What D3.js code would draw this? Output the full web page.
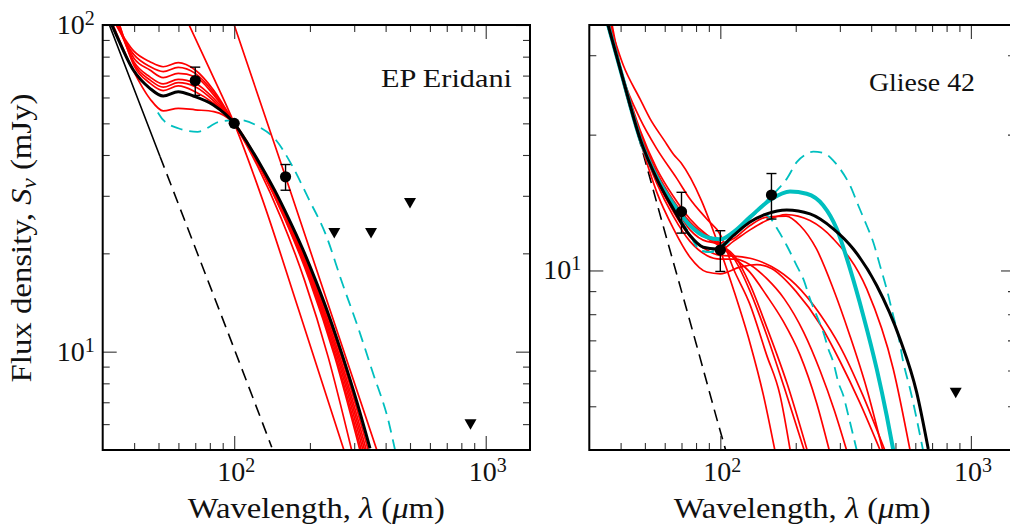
<!DOCTYPE html>
<html>
<head>
<meta charset="utf-8">
<script src="https://cdn.jsdelivr.net/npm/d3@7"></script>
<style>
  body { margin: 0; background: #fff; }
  svg { display: block; }
  text { font-family: "Liberation Serif", "Times New Roman", "DejaVu Serif", "Noto Serif", serif; fill: #111; }
</style>
</head>
<body>
<svg id="chart" width="1010" height="527" font-family="Liberation Serif, Times New Roman, DejaVu Serif, serif"></svg>
<script>
// ---- shared axis values ----
const xMajor = [100, 1000];
const xMinor = [40, 50, 60, 70, 80, 90, 200, 300, 400, 500, 600, 700, 800, 900];

// ---- EP Eridani ----
const epYMajor = [10, 100];
const epYMinor = [6, 7, 8, 9, 20, 30, 40, 50, 60, 70, 80, 90];
const epDetWave = [70, 100, 160];
const epDetFlux = [67.6, 50, 34.3];
const epDetErr = [6.7, 0, 3.1];
const epLimWave = [250, 350, 500, 870];
const epLimFlux = [23.1, 23.1, 28.5, 6.0];

const epPhotSolid = [[30, 113], [40, 63.6], [50.7, 39.6]];
const epPhotDash = [[50.7, 39.6], [70, 20.8], [100, 10.2], [141, 5.1]];
const epCyanDash = [[49.7, 54], [52.2, 51.2], [59.9, 48.3], [71.5, 47.1], [87.8, 50.6], [105.5, 51.2],
  [125.5, 48.8], [145.3, 44.8], [169.3, 37.3], [197.1, 29.5], [231.4, 22.8], [267.6, 16.4],
  [311.4, 11.8], [354.8, 8.68], [412.6, 6.04], [436, 5.0]];
const epBest = [[30, 114], [32.6, 100], [39.7, 72.8], [46.2, 64.0], [52.2, 60.6], [59.9, 62.5], [68.8, 60.6],
  [82.6, 56.9], [100, 50], [113.3, 43.3], [128.3, 36.9], [145.3, 31.05], [164.5, 25.6], [186.3, 20.8],
  [210.9, 16.5], [238.8, 12.8], [270.4, 9.64], [306.2, 7.09], [346.7, 5.06]];
const epRed1 = [[34, 100], [40, 83], [46.2, 77.2], [52.2, 74.5], [59.9, 76.7], [70, 72.8], [83, 63], [100, 50],
  [124, 36.9], [153.8, 25.6], [190.6, 16.5], [236.3, 9.64], [293, 5]];
const epRed2 = [[34, 100], [40, 81], [46.2, 74.6], [52.2, 72], [59.9, 74.2], [70, 71.1], [83, 62], [100, 50],
  [125.9, 36.9], [158.5, 25.6], [199.5, 16.5], [251.1, 9.64], [316, 5]];
const epRed3 = [[34.5, 100], [40, 79], [46.2, 72.8], [52.2, 69], [59.9, 71.1], [70, 69.4], [83, 61], [100, 50],
  [126.2, 36.9], [159.2, 25.6], [201, 16.5], [253.6, 9.64], [320, 5]];
const epRed4 = [[34.5, 100], [40, 77], [46.2, 69.4], [52.2, 66], [59.9, 68.2], [70, 66.3], [83, 59.5], [100, 50],
  [126.6, 36.9], [160.2, 25.6], [202.8, 16.5], [256.8, 9.64], [325, 5]];
const epRed5 = [[35, 100], [40, 76], [46.2, 67.9], [52.2, 64.5], [59.9, 66.6], [70, 64.7], [83, 58.5], [100, 50],
  [127, 36.9], [161.2, 25.6], [204.7, 16.5], [259.9, 9.64], [330, 5]];
const epRed6 = [[35, 100], [40, 75], [46.2, 66.4], [52.2, 63], [59.9, 65.1], [70, 62.5], [83, 57.5], [100, 50],
  [127.4, 36.9], [162.2, 25.6], [206.5, 16.5], [263, 9.64], [335, 5]];
const epRed7 = [[33, 100], [39.7, 72.5], [46.2, 59.5], [52.2, 54.6], [59.9, 55.6], [70, 55], [83, 54.3], [100, 50],
  [127.8, 36.9], [163.4, 25.6], [208.7, 16.5], [266.8, 9.64], [341, 5]];
const epRedA = [[65, 103], [80, 73], [100, 50], [130, 29], [180, 13.5], [273, 5]];
const epRedB = [[98, 104.7], [160, 34.3], [369, 5]];

// ---- Gliese 42 ----
const glYMajor = [10];
const glYMinor = [5, 6, 7, 8, 9, 20, 30];
const glDetWave = [70, 100, 160];
const glDetFlux = [13.5, 11.1, 14.7];
const glDetErr = [1.4, 1.15, 1.7];
const glLimWave = [870];
const glLimFlux = [5.36];

const glPhot = [[35.4, 35], [40, 27.5], [50, 17.6], [60, 12.2], [70, 9.0], [80, 6.9], [100, 4.4], [105, 4.0]];
const glBest = [[35.7, 34.9], [41, 26.4], [47.8, 19.6], [55.8, 15.96], [64.9, 13.7], [75.7, 11.95], [85.5, 11.26],
  [96.7, 11.16], [112.7, 11.95], [131.4, 12.8], [153.2, 13.35], [184.1, 13.62], [228, 13.35], [282.5, 12.37],
  [339.5, 11.16], [420.9, 9.26], [521.3, 7.05], [607.7, 5.37], [676, 4.02]];
const glCyanThick = [[35.7, 34.9], [41, 26.4], [47.8, 19.6], [55.8, 16.1], [64.9, 14.05], [75.7, 12.58],
  [88.3, 11.85], [99.7, 11.72], [112.7, 12.16], [131.4, 13.13], [160.4, 14.41], [189.7, 14.96], [221.2, 14.79],
  [257.6, 13.93], [291.4, 12.37], [329.4, 10.08], [372.1, 7.94], [420.9, 6.05], [461.3, 4.77], [490, 4.0]];
const glCyanDashA = [[35.7, 34.9], [41, 26.4], [47.8, 19.6], [55.8, 16.0], [64.9, 13.8], [75.7, 12.0], [83, 11.07],
  [91, 10.98], [105, 11.4], [123.5, 12.58], [135.4, 13.24], [153.2, 14.29], [173, 15.3], [184.1, 15.96],
  [201.8, 17.38], [221.2, 18.13], [235, 18.34], [257.6, 18.23], [282.5, 17.52], [300.4, 16.8], [329.4, 15.43],
  [355.4, 13.93], [383.9, 12.58], [407.9, 11.55], [433.8, 10.25], [461.3, 9.1], [490, 7.94], [513.2, 7.17],
  [537.4, 6.26], [571.5, 5.47], [644, 4.0]];
const glCyanDashB = [[35.7, 34.9], [41, 26.4], [47.8, 19.6], [55.8, 16.0], [64.9, 13.8], [75.7, 12.0], [83, 11.1],
  [91, 11.0], [100, 11.3], [120, 12.5], [140, 13.4], [155, 13.2], [170.3, 12.26], [184.1, 11.36], [201.8, 10.25],
  [214.4, 9.58], [228, 8.65], [242.5, 7.94], [257.6, 7.3], [269.8, 6.7], [282.5, 6.26], [295.8, 5.65],
  [309.7, 5.28], [324.3, 4.77], [350.2, 4.0]];
const glRed1 = [[36.3, 35], [41, 28.5], [47.8, 24], [52.4, 21.7], [59.8, 19.4], [65, 18.1], [69.8, 17.3], [84, 14.3],
  [95, 12.0], [112.7, 9.1], [131.4, 6.9], [148.5, 5.3], [165, 4.0]];
const glRed2 = [[36, 35], [41, 26.6], [47.8, 21.7], [55.8, 18.6], [67, 16.0], [75.7, 14.4], [88.3, 13.0], [100, 12.0],
  [112.7, 10.1], [131.4, 8.4], [153, 6.5], [173, 5.3], [190, 4.0]];
const glRed3 = [[36, 35], [41, 26.8], [47.8, 20.5], [55.8, 16.8], [64.9, 14.6], [75.7, 13.0], [88.3, 12.0], [100, 11.5],
  [115, 10.5], [131.4, 9.0], [153, 7.2], [180, 5.5], [216, 4.0]];
const glRed4 = [[36, 35], [41, 26.5], [47.8, 20.2], [55.8, 16.5], [64.9, 14.3], [75.7, 12.8], [88.3, 11.9], [100, 11.4],
  [115, 10.7], [131.4, 9.3], [153, 7.5], [185, 5.6], [222, 4.0]];
const glRed5 = [[36, 35], [41, 26.4], [47.8, 20], [55.8, 16.3], [64.9, 14.1], [75.7, 12.6], [88.3, 11.8], [100, 11.3],
  [115, 10.6], [131.4, 9.9], [153, 8.8], [178.6, 7.7], [208, 6.5], [242, 5.1], [272, 4.0]];
const glRed6 = [[36.5, 35], [41, 26], [47.8, 19.6], [55.8, 15.6], [64.9, 13.2], [75.7, 11.6], [88.3, 10.8], [100, 10.6],
  [115, 10.6], [131.4, 10.3], [153, 9.6], [180, 8.65], [215, 7.3], [250, 6.0], [285, 4.9], [319, 4.0]];
const glRed7 = [[37, 35], [41, 26.3], [47.8, 19.4], [55.8, 14.9], [64.9, 12.4], [75.7, 10.7], [88.3, 9.92], [100, 9.83],
  [119.8, 10.17], [140, 10.3], [160, 10.1], [200, 9.0], [250, 7.6], [300, 6.3], [360, 5.1], [434, 4.0]];
const glRed8 = [[36.5, 35], [41, 26.2], [47.8, 19.8], [55.8, 15.9], [64.9, 13.5], [75.7, 11.9], [88.3, 11.1], [100, 10.8],
  [115, 10.75], [135, 10.6], [160, 10.2], [200, 9.3], [250, 8.0], [300, 6.8], [370, 5.3], [453, 4.0]];
const glRed9 = [[36, 35], [41, 26.5], [47.8, 20.3], [55.8, 16.4], [64.9, 14.0], [75.7, 12.3], [88.3, 11.6], [100, 11.5],
  [112.7, 11.75], [131.4, 12.58], [153, 13.13], [183, 13.2], [208, 12.58], [242, 11.16], [282.5, 9.1], [329, 7.17],
  [384, 5.47], [444.6, 4.0]];
const glRed10 = [[36, 35], [41, 26.3], [47.8, 19.7], [55.8, 16.0], [64.9, 13.6], [75.7, 11.9], [88.3, 11.2], [100, 11.1],
  [112.7, 11.6], [131.4, 12.3], [153, 12.9], [183, 13.3], [228, 12.9], [282.5, 11.75], [384, 9.1], [490, 6.05],
  [571.5, 4.0]];

const RED = "#ff0000", CYAN = "#00bfbf", BLACK = "#000";
const svg = d3.select("#chart");
const plotTop = 25, plotBottom = 450;

function sup(sel, base, exp) {
  sel.append("tspan").text(base);
  sel.append("tspan").attr("font-size", 20).attr("dy", -9).text(exp);
}

function drawPanel(p) {
  const x = d3.scaleLog().domain([30, 1500]).range([p.x0, p.x1]);
  const y = d3.scaleLog().domain(p.yDomain).range([plotBottom, plotTop]);
  const g = svg.append("g");

  svg.append("defs").append("clipPath").attr("id", p.id)
    .append("rect").attr("x", p.x0).attr("y", plotTop)
    .attr("width", p.x1 - p.x0).attr("height", plotBottom - plotTop);

  const plot = g.append("g").attr("clip-path", `url(#${p.id})`);
  const line = d3.line().x(d => x(d[0])).y(d => y(d[1])).curve(d3.curveMonotoneX);

  p.curves.forEach(c => {
    plot.append("path").datum(c.data)
      .attr("d", line)
      .attr("fill", "none")
      .attr("stroke", c.color)
      .attr("stroke-width", c.width)
      .attr("stroke-dasharray", c.dash || null)
      .attr("stroke-linejoin", "round");
  });

  // ticks on all four sides, pointing in
  const tickSets = [
    [() => d3.axisBottom(x), `translate(0,${plotBottom})`, xMajor, xMinor],
    [() => d3.axisTop(x), `translate(0,${plotTop})`, xMajor, xMinor],
    [() => d3.axisLeft(y), `translate(${p.x0},0)`, p.yMajor, p.yMinor],
    [() => d3.axisRight(y), `translate(${p.x1},0)`, p.yMajor, p.yMinor]
  ];
  tickSets.forEach(([mk, tr, major, minor]) => {
    [[major, 14], [minor, 7]].forEach(([vals, len]) => {
      const a = g.append("g").attr("transform", tr)
        .call(mk().tickValues(vals).tickSize(-len).tickFormat(""));
      a.select(".domain").remove();
      a.selectAll(".tick line").attr("stroke", "#333").attr("stroke-width", 1.1);
    });
  });

  g.append("rect")
    .attr("x", p.x0).attr("y", plotTop)
    .attr("width", p.x1 - p.x0).attr("height", plotBottom - plotTop)
    .attr("fill", "none").attr("stroke", "#000").attr("stroke-width", 2);

  // tick labels
  xMajor.forEach(v => {
    const t = g.append("text").attr("x", x(v) + 2).attr("y", 481)
      .attr("text-anchor", "middle").attr("font-size", 28);
    sup(t, "10", String(Math.round(Math.log10(v))));
  });
  p.yMajor.forEach(v => {
    const t = g.append("text").attr("x", p.x0 - 8).attr("y", y(v) + 9)
      .attr("text-anchor", "end").attr("font-size", 28);
    sup(t, "10", String(Math.round(Math.log10(v))));
  });

  // x label
  const xl = g.append("text")
    .attr("x", (p.x0 + p.x1) / 2).attr("y", 518)
    .attr("text-anchor", "middle").attr("font-size", 30)
    .attr("textLength", 257).attr("lengthAdjust", "spacingAndGlyphs");
  xl.append("tspan").text("Wavelength, ");
  xl.append("tspan").attr("font-style", "italic").text("λ");
  xl.append("tspan").text(" (");
  xl.append("tspan").attr("font-style", "italic").text("μ");
  xl.append("tspan").text("m)");

  // star name
  g.append("text").attr("x", p.nameX).attr("y", p.nameY)
    .attr("text-anchor", "end").attr("font-size", 26)
    .attr("textLength", p.nameW).attr("lengthAdjust", "spacingAndGlyphs")
    .text(p.name);

  // detections with error bars
  p.det.wave.forEach((w, i) => {
    const cx = x(w), f = p.det.flux[i], e = p.det.err[i];
    if (e > 0) {
      const y1 = y(f + e), y2 = y(f - e);
      g.append("line").attr("x1", cx).attr("x2", cx).attr("y1", y1).attr("y2", y2)
        .attr("stroke", BLACK).attr("stroke-width", 1.4);
      [y1, y2].forEach(yy => g.append("line")
        .attr("x1", cx - 5).attr("x2", cx + 5).attr("y1", yy).attr("y2", yy)
        .attr("stroke", BLACK).attr("stroke-width", 1.4));
    }
    g.append("circle").attr("cx", cx).attr("cy", y(f)).attr("r", 5.6).attr("fill", BLACK);
  });

  // upper limits
  p.lim.wave.forEach((w, i) => {
    const cx = x(w), cy = y(p.lim.flux[i]);
    g.append("path")
      .attr("d", `M${cx - 6},${cy - 5}L${cx + 6},${cy - 5}L${cx},${cy + 5.5}Z`)
      .attr("fill", BLACK);
  });
}

const thinRed = d => ({ data: d, color: RED, width: 1.7 });

drawPanel({
  id: "clip-ep", x0: 102.7, x1: 530, yDomain: [5, 100],
  yMajor: epYMajor, yMinor: epYMinor,
  name: "EP Eridani", nameX: 512, nameY: 87, nameW: 131,
  det: { wave: epDetWave, flux: epDetFlux, err: epDetErr },
  lim: { wave: epLimWave, flux: epLimFlux },
  curves: [
    { data: epPhotSolid, color: BLACK, width: 1.6 },
    { data: epPhotDash, color: BLACK, width: 1.6, dash: "12,7" },
    { data: epCyanDash, color: CYAN, width: 1.8, dash: "12,7" },
    thinRed(epRed1), thinRed(epRed2), thinRed(epRed3), thinRed(epRed4),
    thinRed(epRed5), thinRed(epRed6), thinRed(epRed7), thinRed(epRedA), thinRed(epRedB),
    { data: epBest, color: BLACK, width: 3 }
  ]
});

drawPanel({
  id: "clip-gl", x0: 589.3, x1: 1015, yDomain: [4, 35],
  yMajor: glYMajor, yMinor: glYMinor,
  name: "Gliese 42", nameX: 975, nameY: 91, nameW: 106,
  det: { wave: glDetWave, flux: glDetFlux, err: glDetErr },
  lim: { wave: glLimWave, flux: glLimFlux },
  curves: [
    { data: glPhot, color: BLACK, width: 1.6, dash: "12,7" },
    thinRed(glRed1), thinRed(glRed2), thinRed(glRed3), thinRed(glRed4), thinRed(glRed5),
    thinRed(glRed6), thinRed(glRed7), thinRed(glRed8), thinRed(glRed9), thinRed(glRed10),
    { data: glCyanDashA, color: CYAN, width: 1.8, dash: "12,7" },
    { data: glCyanDashB, color: CYAN, width: 1.8, dash: "12,7" },
    { data: glCyanThick, color: CYAN, width: 4 },
    { data: glBest, color: BLACK, width: 3 }
  ]
});

// y label (left)
const yl = svg.append("text")
  .attr("transform", "translate(31,238) rotate(-90)")
  .attr("text-anchor", "middle").attr("font-size", 30)
  .attr("textLength", 289).attr("lengthAdjust", "spacingAndGlyphs");
yl.append("tspan").text("Flux density, ");
yl.append("tspan").attr("font-style", "italic").text("S");
yl.append("tspan").attr("font-style", "italic").attr("font-size", 21).attr("dy", 5).text("ν");
yl.append("tspan").attr("dy", -5).text(" (mJy)");
</script>
</body>
</html>
